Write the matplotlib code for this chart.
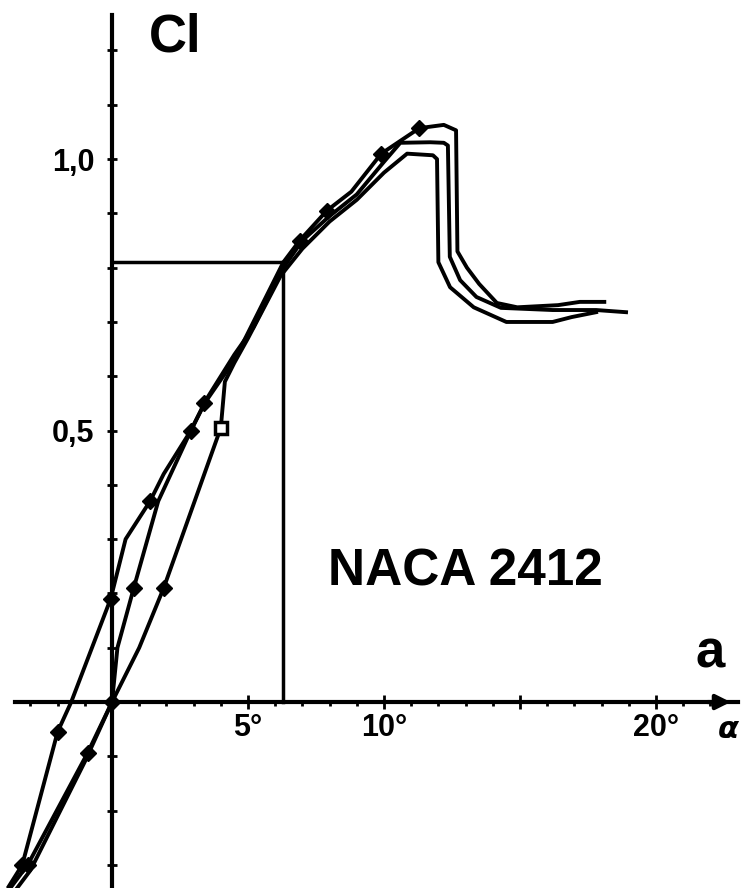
import numpy as np
import matplotlib.pyplot as plt

# NACA 2412 lift curves (alpha in degrees, Cl)
alpha_a = [-3.8, -3.3, -2.0, -1.5, -0.05, 0.5, 1.4, 1.9, 2.9, 3.4, 4.5, 5.1, 6.3, 6.9,
           7.9, 8.8, 9.9, 11.3, 12.2, 12.65, 12.7, 13.05, 13.5, 14.15, 14.9, 16.4, 17.2, 18.1]
cl_a = [-0.34, -0.30, -0.055, 0.0, 0.19, 0.30, 0.37, 0.42, 0.50, 0.55, 0.63, 0.69, 0.81, 0.85,
        0.905, 0.94, 1.01, 1.057, 1.063, 1.053, 0.83, 0.80, 0.77, 0.735, 0.727, 0.731, 0.737, 0.737]
marks_a = [1, 2, 4, 6, 8, 9, 13, 14, 16, 17]

alpha_b = [-3.7, -3.1, -0.9, 0.0, 0.2, 0.8, 1.7, 2.9, 3.5, 4.5, 5.2, 6.3, 7.0, 8.0,
           9.0, 10.0, 10.6, 11.7, 12.2, 12.35, 12.42, 12.8, 13.4, 14.3, 16.2, 17.8, 18.9]
cl_b = [-0.34, -0.30, -0.094, 0.0, 0.10, 0.21, 0.37, 0.50, 0.56, 0.64, 0.69, 0.80, 0.85, 0.895,
        0.935, 0.995, 1.03, 1.031, 1.03, 1.025, 0.82, 0.777, 0.746, 0.726, 0.722, 0.722, 0.718]
marks_b = [1, 2, 3, 5]

alpha_c = [-3.6, -3.0, -1.0, 0.0, 1.0, 1.9, 4.0, 4.15, 4.5, 5.0, 6.2, 7.0, 8.0,
           9.0, 10.0, 10.85, 11.8, 11.95, 12.0, 12.43, 13.3, 14.5, 16.2, 16.9, 17.8]
cl_c = [-0.35, -0.31, -0.11, 0.0, 0.10, 0.21, 0.505, 0.59, 0.625, 0.67, 0.785, 0.835, 0.885,
        0.925, 0.975, 1.01, 1.007, 1.0, 0.81, 0.764, 0.727, 0.70, 0.70, 0.709, 0.718]
marks_c = [5]
square_c = 6

# design point lines
alpha_ref = 6.29
cl_ref = 0.81

y_labels = {0.5: '0,5', 1.0: '1,0'}
x_labels = {5: '5°', 10: '10°', 15: '', 20: '20°'}

font = ['Liberation Sans', 'DejaVu Sans']

fig = plt.figure(figsize=(7.43, 8.88), dpi=100)
ax = fig.add_axes([0, 0, 1, 1])
ax.set_xlim(-4.118, 23.2)
ax.set_ylim(-0.3425, 1.293)

for s in ['top', 'right']:
    ax.spines[s].set_visible(False)
ax.spines['left'].set_position(('data', 0))
ax.spines['bottom'].set_position(('data', 0))
ax.spines['left'].set_linewidth(3)
ax.spines['bottom'].set_linewidth(3)
ax.spines['left'].set_bounds(-0.35, 1.265)
ax.spines['bottom'].set_bounds(-3.57, 23.0)

# axis arrow
ax.annotate('', xy=(22.85, 0), xytext=(21.8, 0),
            arrowprops=dict(arrowstyle='-|>', color='k', lw=3, mutation_scale=22))

# curves
ax.plot(alpha_a, cl_a, color='k', lw=2.8, marker='D', ms=8, markevery=marks_a)
ax.plot(alpha_b, cl_b, color='k', lw=2.8, marker='D', ms=8, markevery=marks_b)
ax.plot(alpha_c, cl_c, color='k', lw=2.8, marker='D', ms=8, markevery=marks_c)
ax.plot(alpha_c[square_c], cl_c[square_c], marker='s', ms=8, mfc='white', mec='k', mew=2.5)

# reference lines
ax.plot([0, alpha_ref], [cl_ref, cl_ref], color='k', lw=2.5)
ax.plot([alpha_ref, alpha_ref], [0, cl_ref], color='k', lw=2.5)

# ticks
ax.set_yticks(list(y_labels.keys()))
ax.set_yticklabels(list(y_labels.values()))
ax.set_yticks(np.round(np.arange(-0.3, 1.25, 0.1), 2), minor=True)
ax.set_xticks(list(x_labels.keys()))
ax.set_xticklabels(list(x_labels.values()))
ax.set_xticks(np.arange(-3, 23, 1), minor=True)

ax.tick_params(axis='y', which='both', direction='inout', length=7, width=2, pad=9)
ax.tick_params(axis='x', which='major', direction='inout', length=10, width=2, pad=3)
ax.tick_params(axis='x', which='minor', direction='out', length=3, width=2)
for lab in ax.get_yticklabels() + ax.get_xticklabels():
    lab.set_family(font)
    lab.set_fontweight('bold')
    lab.set_fontsize(22)

# labels
ax.text(1.35, 1.27, 'Cl', family=font, fontweight='bold', fontsize=38, va='top', ha='left')
ax.text(7.94, 0.215, 'NACA 2412', family=font, fontweight='bold', fontsize=37,
        va='baseline', ha='left')
ax.text(21.45, 0.063, 'a', family=font, fontweight='bold', fontsize=38, va='baseline', ha='left')
ax.text(22.65, -0.05, 'α', fontstyle='italic', fontweight='bold', fontsize=22,
        va='center', ha='center')

plt.savefig('out.png', dpi=100)
